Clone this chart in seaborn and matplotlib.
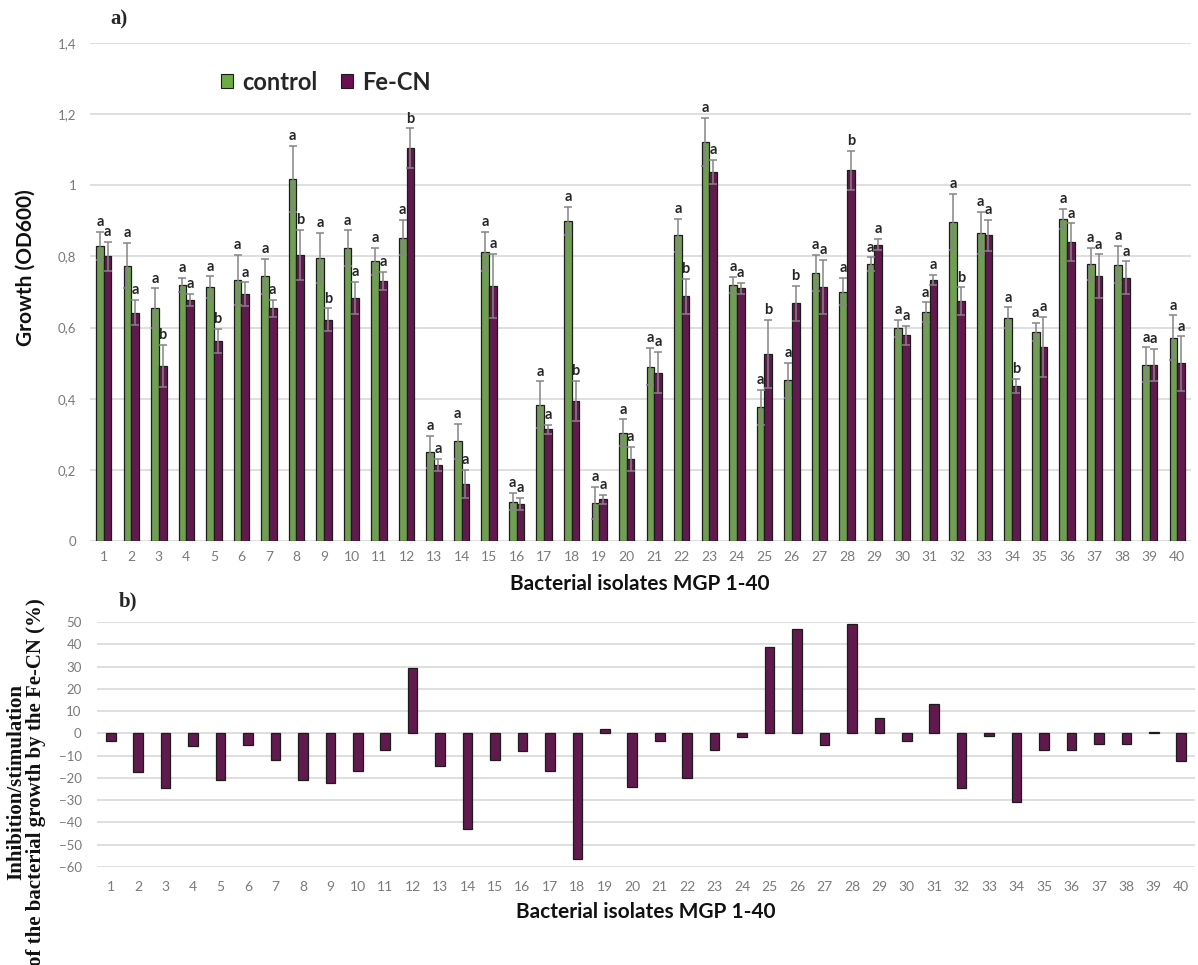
import numpy as np
import pandas as pd
import matplotlib
matplotlib.use("Agg")
import matplotlib.pyplot as plt
import seaborn as sns
from matplotlib.patches import Patch

# Isolates MGP 1-40
isolates = [str(i) for i in range(1, 41)]

# Growth (OD600), mean and SD per isolate
control = [0.830, 0.774, 0.655, 0.720, 0.714, 0.734, 0.744, 1.018, 0.796, 0.823,
           0.786, 0.853, 0.250, 0.280, 0.813, 0.111, 0.383, 0.899, 0.108, 0.304,
           0.490, 0.859, 1.121, 0.720, 0.376, 0.452, 0.753, 0.701, 0.778, 0.598,
           0.644, 0.896, 0.866, 0.628, 0.588, 0.905, 0.780, 0.777, 0.495, 0.571]
control_sd = [0.040, 0.063, 0.055, 0.019, 0.030, 0.070, 0.049, 0.092, 0.070, 0.050,
              0.037, 0.049, 0.045, 0.050, 0.055, 0.025, 0.066, 0.040, 0.045, 0.038,
              0.052, 0.047, 0.068, 0.023, 0.049, 0.049, 0.051, 0.038, 0.019, 0.024,
              0.027, 0.079, 0.059, 0.029, 0.026, 0.028, 0.045, 0.053, 0.049, 0.063]
fecn = [0.800, 0.642, 0.492, 0.677, 0.562, 0.694, 0.654, 0.804, 0.622, 0.684,
        0.731, 1.105, 0.213, 0.161, 0.717, 0.104, 0.314, 0.393, 0.117, 0.231,
        0.473, 0.688, 1.038, 0.710, 0.525, 0.668, 0.714, 1.042, 0.833, 0.578,
        0.734, 0.674, 0.859, 0.436, 0.545, 0.840, 0.744, 0.740, 0.495, 0.499]
fecn_sd = [0.040, 0.036, 0.060, 0.017, 0.034, 0.033, 0.023, 0.070, 0.032, 0.045,
           0.026, 0.055, 0.017, 0.040, 0.090, 0.018, 0.012, 0.057, 0.012, 0.034,
           0.058, 0.049, 0.033, 0.015, 0.096, 0.049, 0.076, 0.055, 0.016, 0.026,
           0.014, 0.039, 0.043, 0.019, 0.085, 0.053, 0.062, 0.046, 0.046, 0.076]

# Significance letters
control_letters = ["a"] * 40
fecn_letters = ["a", "a", "b", "a", "b", "a", "a", "b", "b", "a",
                "a", "b", "a", "a", "a", "a", "a", "b", "a", "a",
                "a", "b", "a", "a", "b", "b", "a", "b", "a", "a",
                "a", "b", "a", "b", "a", "a", "a", "a", "a", "a"]

# Inhibition (-) / stimulation (+) of growth by Fe-CN, %
effect_pct = [-3.6, -17.4, -24.7, -5.7, -21.0, -5.1, -12.0, -21.0, -22.2, -16.8,
              -7.3, 29.4, -14.7, -42.9, -12.0, -7.8, -16.8, -56.4, 1.8, -24.3,
              -3.6, -20.1, -7.3, -1.5, 38.8, 46.8, -5.2, 48.9, 7.0, -3.6,
              13.3, -24.7, -1.0, -30.6, -7.3, -7.3, -4.6, -4.6, 0.7, -12.6]

GREEN = "#6DAB45"
PURPLE = "#6C0E52"
EDGE = "#1c1c1c"
GRID = "#d9d9d9"
TICK = "#7a7a7a"

sns.set_theme(style="white")
plt.rcParams["font.family"] = ["Lato", "DejaVu Sans"]

W, H = 1198, 965
fig = plt.figure(figsize=(W / 100, H / 100), dpi=100)

# ---------------- a) growth ----------------
ax1 = fig.add_axes([90 / W, 1 - 541 / H, 1101 / W, 498 / H])
growth = pd.DataFrame({
    "isolate": isolates * 2,
    "treatment": ["control"] * 40 + ["Fe-CN"] * 40,
    "od": control + fecn,
})
sns.barplot(data=growth, x="isolate", y="od", hue="treatment",
            order=isolates, hue_order=["control", "Fe-CN"],
            palette={"control": GREEN, "Fe-CN": PURPLE},
            width=0.56, errorbar=None, edgecolor=EDGE, linewidth=0.9,
            legend=False, ax=ax1, zorder=2)

for cont, vals, sds, letters in zip(ax1.containers,
                                    [control, fecn],
                                    [control_sd, fecn_sd],
                                    [control_letters, fecn_letters]):
    xs = [b.get_x() + b.get_width() / 2 for b in cont]
    ax1.errorbar(xs, vals, yerr=sds, fmt="none", ecolor="#858585",
                 elinewidth=1.1, capsize=3, capthick=1.1, zorder=3)
    for x, v, s, l in zip(xs, vals, sds, letters):
        ax1.annotate(l, (x, v + s), xytext=(0, 2), textcoords="offset points",
                     ha="center", va="bottom", fontsize=10.5, fontweight="bold",
                     color="#262626", zorder=4)

ax1.set_xlim(-0.5, 39.5)
ax1.set_ylim(0, 1.4)
yt = [0, 0.2, 0.4, 0.6, 0.8, 1.0, 1.2, 1.4]
ax1.set_yticks(yt)
ax1.set_yticklabels(["0", "0,2", "0,4", "0,6", "0,8", "1", "1,2", "1,4"])
ax1.yaxis.grid(True, color=GRID, linewidth=1.2, zorder=0)
ax1.xaxis.grid(False)
ax1.set_axisbelow(True)
for sp in ax1.spines.values():
    sp.set_visible(False)
ax1.tick_params(axis="y", length=0, pad=10, labelsize=9.5, labelcolor=TICK)
ax1.tick_params(axis="x", length=0, pad=7, labelsize=10, labelcolor=TICK)
ax1.set_xlabel("")
ax1.set_ylabel("")

fig.text(26 / W, 1 - 268 / H, "Growth (OD600)", rotation=90, ha="center",
         va="center", fontsize=15, fontweight="bold", color="#111111")
fig.text(640 / W, 1 - 584 / H, "Bacterial isolates MGP 1-40", ha="center",
         va="center", fontsize=15, fontweight="bold", color="#111111")
fig.text(119 / W, 1 - 19 / H, "a)", ha="center", va="center", fontsize=15,
         fontweight="bold", family=["Liberation Serif", "DejaVu Serif"])

handles = [Patch(facecolor=GREEN, edgecolor=EDGE, linewidth=0.8),
           Patch(facecolor=PURPLE, edgecolor=EDGE, linewidth=0.8)]
fig.legend(handles, ["control", "Fe-CN"], loc="center",
           bbox_to_anchor=(326 / W, 1 - 82 / H), ncol=2, frameon=False,
           handlelength=0.5, handleheight=0.5, handletextpad=0.4,
           columnspacing=1.0, prop={"size": 17, "weight": "bold"})

# ---------------- b) inhibition / stimulation ----------------
ax2 = fig.add_axes([97 / W, 1 - 867 / H, 1098 / W, 245 / H])
sns.barplot(x=isolates, y=effect_pct, order=isolates, color=PURPLE,
            width=0.35, errorbar=None, edgecolor=EDGE, linewidth=0.9,
            ax=ax2, zorder=2)
ax2.set_xlim(-0.5, 39.5)
ax2.set_ylim(-60, 50)
ax2.set_yticks(np.arange(-60, 51, 10))
ax2.yaxis.grid(True, color=GRID, linewidth=1.2, zorder=0)
ax2.xaxis.grid(False)
ax2.set_axisbelow(True)
for sp in ax2.spines.values():
    sp.set_visible(False)
ax2.tick_params(axis="y", length=0, pad=11, labelsize=9.5, labelcolor=TICK)
ax2.tick_params(axis="x", length=0, pad=10, labelsize=10, labelcolor=TICK)
ax2.set_xlabel("")
ax2.set_ylabel("")

fig.text(646 / W, 1 - 912 / H, "Bacterial isolates MGP 1-40", ha="center",
         va="center", fontsize=15, fontweight="bold", color="#111111")
fig.text(128 / W, 1 - 601 / H, "b)", ha="center", va="center", fontsize=15,
         fontweight="bold", family=["Liberation Serif", "DejaVu Serif"])
fig.text(26 / W, 1 - 782 / H,
         "Inhibition/stimulation\nof the bacterial growth by the Fe-CN (%)",
         rotation=90, ha="center", va="center", multialignment="center",
         linespacing=0.95, fontsize=15, fontweight="bold", color="#111111",
         family=["Liberation Serif", "DejaVu Serif"])

fig.savefig("out.png", dpi=100, facecolor="white")
